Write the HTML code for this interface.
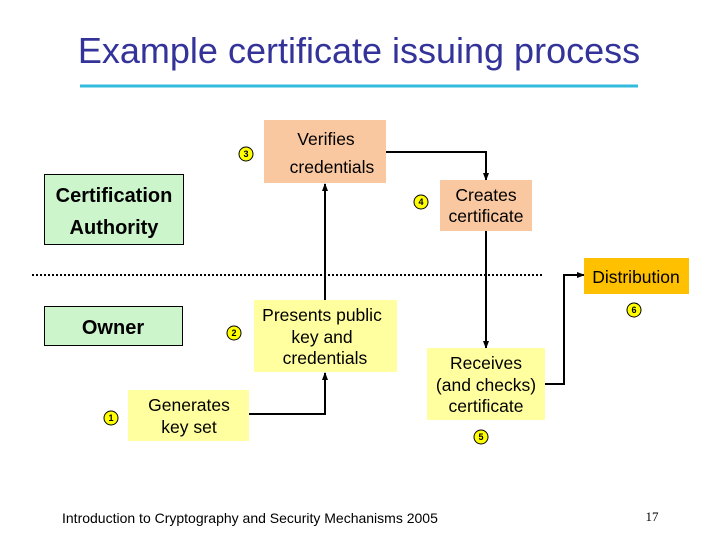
<!DOCTYPE html>
<html><head><meta charset="utf-8"><style>
html,body{margin:0;padding:0;background:#fff;}
svg{display:block;font-family:"Liberation Sans",Arial,sans-serif;}
</style></head><body>
<svg width="720" height="540" viewBox="0 0 720 540" xmlns="http://www.w3.org/2000/svg">
<defs>
<marker id="a" markerWidth="8" markerHeight="8" refX="7" refY="4" orient="auto" markerUnits="userSpaceOnUse">
<path d="M0,1 L8,4 L0,7 Z" fill="#000"/></marker>
</defs>
<text x="359" y="63" font-size="36" fill="#333399" text-anchor="middle">Example certificate issuing process</text>
<line x1="80" y1="86" x2="638" y2="86" stroke="#33bbdd" stroke-width="3"/>

<line x1="32" y1="275" x2="542" y2="275" stroke="#000" stroke-width="2" stroke-dasharray="2,2"/>

<polyline points="249,414 325,414 325,373" fill="none" stroke="#000" stroke-width="2" marker-end="url(#a)"/>
<polyline points="325,300 325,184" fill="none" stroke="#000" stroke-width="2" marker-end="url(#a)"/>
<polyline points="386,152 486,152 486,180" fill="none" stroke="#000" stroke-width="2" marker-end="url(#a)"/>
<polyline points="486,231 486,348" fill="none" stroke="#000" stroke-width="2" marker-end="url(#a)"/>
<polyline points="545,384 564,384 564,275 584,275" fill="none" stroke="#000" stroke-width="2" marker-end="url(#a)"/>

<rect x="44.5" y="174.5" width="139" height="70" fill="#ccf5cc" stroke="#000" stroke-width="1"/>
<text x="114" y="202" font-size="20" font-weight="bold" text-anchor="middle">Certification</text>
<text x="114" y="234" font-size="20" font-weight="bold" text-anchor="middle">Authority</text>

<rect x="44.5" y="306.5" width="138" height="39" fill="#ccf5cc" stroke="#000" stroke-width="1"/>
<text x="113" y="334" font-size="20" font-weight="bold" text-anchor="middle">Owner</text>

<rect x="264" y="120" width="122" height="63" fill="#fac8a0"/>
<text x="326" y="145" font-size="17.5" text-anchor="middle">Verifies</text>
<text x="332" y="173" font-size="17.5" text-anchor="middle">credentials</text>

<rect x="254" y="300" width="143" height="72" fill="#ffff9f"/>
<text x="322" y="321" font-size="17.5" text-anchor="middle">Presents public</text>
<text x="322" y="343" font-size="17.5" text-anchor="middle">key and</text>
<text x="325" y="364" font-size="17.5" text-anchor="middle">credentials</text>

<rect x="128" y="390" width="121" height="51" fill="#ffff9f"/>
<text x="189" y="411" font-size="17.5" text-anchor="middle">Generates</text>
<text x="189" y="433" font-size="17.5" text-anchor="middle">key set</text>

<rect x="440" y="180" width="92" height="51" fill="#fac8a0"/>
<text x="486" y="201" font-size="17.5" text-anchor="middle">Creates</text>
<text x="486" y="222" font-size="17.5" text-anchor="middle">certificate</text>

<rect x="427" y="348" width="118" height="72" fill="#ffff9f"/>
<text x="486" y="369" font-size="17.5" text-anchor="middle">Receives</text>
<text x="486" y="391" font-size="17.5" text-anchor="middle">(and checks)</text>
<text x="486" y="412" font-size="17.5" text-anchor="middle">certificate</text>

<rect x="584" y="258" width="105" height="36" fill="#ffc000"/>
<text x="636" y="283" font-size="17.5" text-anchor="middle">Distribution</text>

<g font-size="9" font-weight="bold" text-anchor="middle" stroke-width="1">
<circle cx="111" cy="418" r="7" fill="#ffff00" stroke="#000"/><text x="111" y="421">1</text>
<circle cx="234" cy="333" r="7" fill="#ffff00" stroke="#000"/><text x="234" y="336">2</text>
<circle cx="246" cy="154" r="7" fill="#ffff00" stroke="#000"/><text x="246" y="157">3</text>
<circle cx="421" cy="202" r="7" fill="#ffff00" stroke="#000"/><text x="421" y="205">4</text>
<circle cx="481" cy="437" r="7" fill="#ffff00" stroke="#000"/><text x="481" y="440">5</text>
<circle cx="634" cy="310" r="7" fill="#ffff00" stroke="#000"/><text x="634" y="313">6</text>
</g>

<text x="62" y="523" font-size="14">Introduction to Cryptography and Security Mechanisms 2005</text>
<text x="652" y="521" font-size="13" font-family="Liberation Serif,serif" text-anchor="middle">17</text>
</svg>
</body></html>
